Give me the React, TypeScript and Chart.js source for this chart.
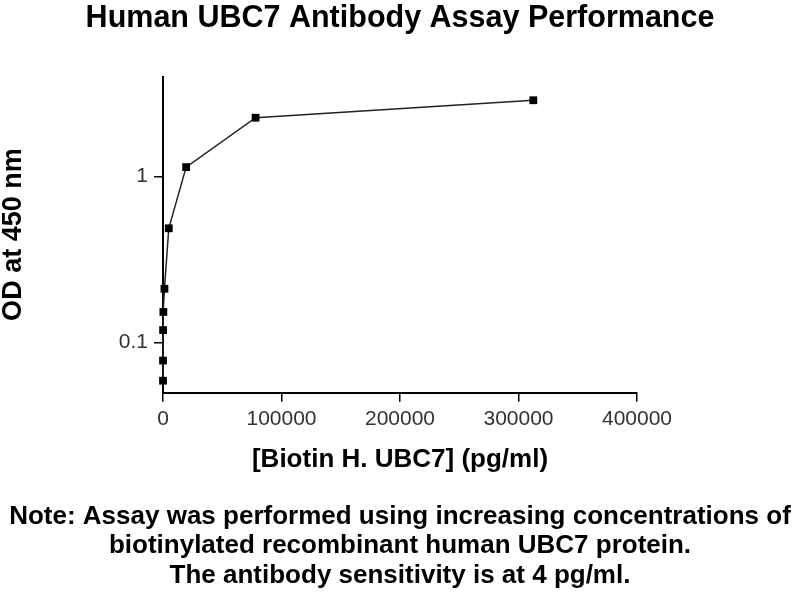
import React, { useEffect, useRef } from 'react';
import { Chart, registerables, ChartOptions } from 'chart.js';

Chart.register(...registerables);

// Concentration series (4-fold dilutions) and measured OD
const concentrations = [4.88, 19.5, 78.1, 305, 1221, 4883, 19531, 78125, 312500];
const odValues = [0.059, 0.078, 0.119, 0.153, 0.211, 0.488, 1.14, 2.26, 2.88];

const yTicks = [0.1, 1];
const xTicks = [0, 100000, 200000, 300000, 400000];

const titleText = 'Human UBC7 Antibody Assay Performance';
const xTitle = '[Biotin H. UBC7] (pg/ml)';
const yTitle = 'OD at 450 nm';
const noteLines = [
  'Note: Assay was performed using increasing concentrations of',
  'biotinylated recombinant human UBC7 protein.',
  'The antibody sensitivity is at 4 pg/ml.'
];

const FONT = '"Liberation Sans", Arial, sans-serif';

const App: React.FC = () => {
  const canvasRef = useRef<HTMLCanvasElement>(null);

  useEffect(() => {
    document.body.style.margin = '0';
    if (!canvasRef.current) return;

    const options = {
      responsive: false,
      animation: false,
      layout: { padding: 0 },
      plugins: {
        legend: { display: false },
        tooltip: { enabled: false },
        title: {
          display: true,
          text: titleText,
          color: '#000',
          font: { family: FONT, size: 30.5, weight: 'bold', lineHeight: 1.1 },
          padding: { top: 2, bottom: 41 }
        },
        subtitle: {
          display: true,
          position: 'bottom',
          text: noteLines,
          color: '#000',
          font: { family: FONT, size: 26, weight: 'bold', lineHeight: 1.12 },
          padding: { top: 20, bottom: 10 }
        }
      },
      scales: {
        x: {
          type: 'linear',
          min: 0,
          max: 400000,
          afterBuildTicks: (scale: any) => {
            scale.ticks = xTicks.map((v) => ({ value: v }));
          },
          afterFit: (scale: any) => {
            scale.height = 90;
          },
          ticks: {
            color: '#333',
            padding: 5,
            font: { family: FONT, size: 21 },
            callback: (v: any) => String(v)
          },
          grid: {
            display: true,
            drawOnChartArea: false,
            drawTicks: true,
            tickLength: 9,
            color: '#000',
            lineWidth: 1.5
          },
          border: { display: true, color: '#000', width: 2 },
          title: {
            display: true,
            text: xTitle,
            color: '#000',
            font: { family: FONT, size: 26, weight: 'bold', lineHeight: 1.2 },
            padding: { top: 0, bottom: 7 }
          }
        },
        y: {
          type: 'logarithmic',
          min: 0.05,
          max: 4,
          afterBuildTicks: (scale: any) => {
            scale.ticks = yTicks.map((v) => ({ value: v }));
          },
          afterFit: (scale: any) => {
            scale.width = 163;
          },
          ticks: {
            color: '#333',
            padding: 6,
            font: { family: FONT, size: 21 },
            callback: (v: any) => String(v)
          },
          grid: {
            display: true,
            drawOnChartArea: false,
            drawTicks: true,
            tickLength: 9,
            color: '#000',
            lineWidth: 1.5
          },
          border: { display: true, color: '#000', width: 2 },
          title: {
            display: true,
            text: yTitle,
            color: '#000',
            font: { family: FONT, size: 27, weight: 'bold', lineHeight: 1 },
            padding: { top: 0, bottom: 0 }
          }
        },
        // empty axis on the right only to reserve the right margin
        spacer: {
          type: 'linear',
          position: 'right',
          display: true,
          afterFit: (scale: any) => {
            scale.width = 163;
          },
          ticks: { display: false },
          grid: { display: false, drawTicks: false },
          border: { display: false }
        }
      }
    } as ChartOptions<'line'>;

    const chart = new Chart(canvasRef.current, {
      type: 'line',
      data: {
        datasets: [
          {
            data: concentrations.map((c, i) => ({ x: c, y: odValues[i] })),
            borderColor: '#222',
            borderWidth: 1.5,
            backgroundColor: '#000',
            pointStyle: 'rect',
            pointRadius: 5.5,
            pointBorderWidth: 0,
            pointBackgroundColor: '#000',
            tension: 0,
            clip: false
          }
        ]
      },
      options
    });

    return () => {
      chart.destroy();
    };
  }, []);

  return (
    <div style={{ width: 800, height: 600, background: '#fff' }}>
      <canvas ref={canvasRef} width={800} height={600}></canvas>
    </div>
  );
};

export default App;
